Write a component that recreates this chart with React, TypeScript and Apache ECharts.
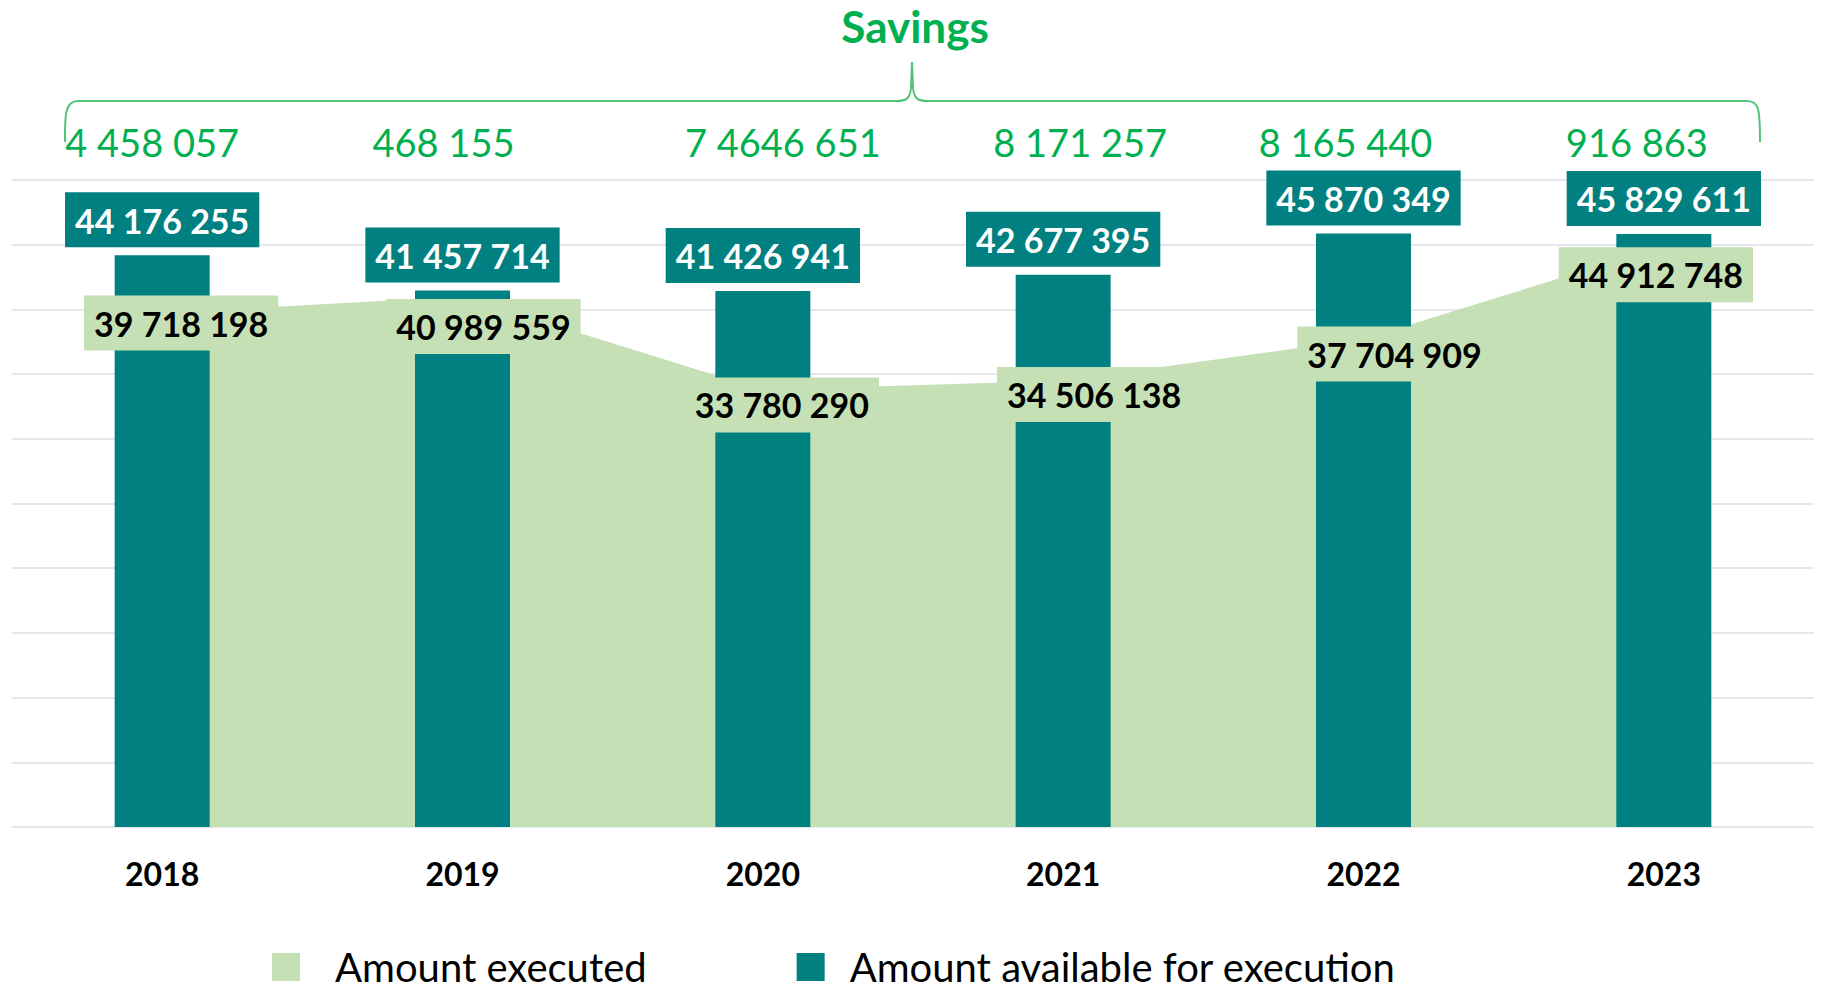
import React, { useEffect, useRef } from "react";
import * as echarts from "echarts";

const years = ["2018", "2019", "2020", "2021", "2022", "2023"];
const availableValues = [44176255, 41457714, 41426941, 42677395, 45870349, 45829611];
const executedValues = [39718198, 40989559, 33780290, 34506138, 37704909, 44912748];
const savingsLabels = ["4 458 057", "468 155", "7 4646 651", "8 171 257", "8 165 440", "916 863"];
const legendNames = ["Amount executed", "Amount available for execution"];

// label nudges (px), matching the hand-placed labels of the original
const executedLabelOffsets = [[19, 10], [21, 30], [19, 15], [31, 14], [31, 15], [-8, 29]];
const savingsLabelShifts = [-10, -19, 20, 17, -18, -27];

const TEAL = "#008080";
const LIGHT = "#C5E0B4";
const GREEN = "#00B050";
const GRID = "#E4E7EC";
const FONT = "Lato";

const fmt = (n: number) => String(n).replace(/\B(?=(\d{3})+(?!\d))/g, " ");

const braceD =
  "M 65 142 C 65 118 64 101 78 101 L 896 101 C 906 101 910 99 911 88 L 912 62 L 913 88 C 914 99 918 101 928 101 L 1746 101 C 1759 101 1760 108 1760 142";

export default function App() {
  const ref = useRef<HTMLDivElement>(null);
  useEffect(() => {
    if (!ref.current) return;
    try {
      echarts.graphic.registerShape("brace", echarts.graphic.extendPath(braceD, {}));
    } catch (e) {}
    const chart = echarts.init(ref.current, null, { renderer: "svg" });

    const savingsRich: Record<string, any> = {};
    savingsLabelShifts.forEach((dx, i) => {
      savingsRich["s" + i] = {
        color: GREEN,
        fontFamily: FONT,
        fontSize: 38,
        lineHeight: 40,
        padding: dx < 0 ? [0, -2 * dx, 0, 0] : [0, 0, 0, 2 * dx],
      };
    });

    const labelBox = {
      fontFamily: FONT,
      fontWeight: "bold" as const,
      fontSize: 34,
      lineHeight: 36,
      padding: [10, 10, 9, 10],
    };

    const legendText = {
      fontFamily: FONT,
      fontSize: 40,
      lineHeight: 40,
      color: "#000",
    };

    chart.setOption({
      animation: false,
      textStyle: { fontFamily: FONT },
      title: {
        text: "Savings",
        left: 915,
        textAlign: "center",
        top: 4,
        padding: 0,
        textStyle: { color: GREEN, fontFamily: FONT, fontWeight: "bold", fontSize: 44, lineHeight: 44 },
      },
      legend: {
        data: [
          { name: legendNames[0], textStyle: { ...legendText, padding: [0, 0, 0, 30] } },
          { name: legendNames[1], textStyle: { ...legendText, padding: [0, 0, 0, 20] } },
        ],
        left: 272,
        top: 947,
        padding: 0,
        itemWidth: 28,
        itemHeight: 28,
        itemGap: 150,
        icon: "rect",
        textStyle: { ...legendText, padding: [0, 0, 0, 30] },
      },
      grid: { left: 12, right: 7, top: 180, bottom: 163 },
      xAxis: [
        {
          type: "category",
          data: years,
          axisLine: { show: false },
          axisTick: { show: false },
          axisLabel: {
            color: "#000",
            fontFamily: FONT,
            fontWeight: "bold",
            fontSize: 32,
            lineHeight: 32,
            margin: 30,
          },
        },
        {
          type: "category",
          position: "top",
          data: savingsLabels,
          axisLine: { show: false },
          axisTick: { show: false },
          splitLine: { show: false },
          axisLabel: {
            margin: 18,
            formatter: (v: string, i: number) => `{s${i}|${v}}`,
            rich: savingsRich,
          },
        },
      ],
      yAxis: {
        type: "value",
        min: 0,
        max: 50000000,
        interval: 5000000,
        axisLabel: { show: false },
        axisLine: { show: false },
        axisTick: { show: false },
        splitLine: { lineStyle: { color: GRID, width: 2 } },
      },
      series: [
        {
          name: legendNames[0],
          type: "line",
          z: 1,
          data: executedValues,
          symbol: "none",
          showSymbol: false,
          itemStyle: { color: LIGHT },
          lineStyle: { width: 0, color: LIGHT },
          areaStyle: { color: LIGHT, opacity: 1 },
          silent: true,
        },
        {
          name: legendNames[1],
          type: "bar",
          z: 2,
          data: availableValues,
          barWidth: 95,
          itemStyle: { color: TEAL },
          label: {
            show: true,
            position: "top",
            distance: 8,
            color: "#fff",
            backgroundColor: TEAL,
            formatter: (p: any) => fmt(p.value),
            ...labelBox,
          },
        },
        {
          name: "executed-labels",
          type: "line",
          z: 3,
          data: executedValues.map((v, i) => ({
            value: v,
            label: { offset: executedLabelOffsets[i] },
          })),
          symbol: "circle",
          symbolSize: 2,
          showSymbol: true,
          itemStyle: { color: "rgba(0,0,0,0)" },
          lineStyle: { width: 0, opacity: 0 },
          silent: true,
          label: {
            show: true,
            position: "inside",
            color: "#000",
            backgroundColor: LIGHT,
            formatter: (p: any) => fmt(p.value),
            ...labelBox,
          },
        },
      ],
      graphic: [
        {
          type: "brace",
          x: 0,
          y: 0,
          silent: true,
          style: { stroke: "#52C27B", fill: "none", lineWidth: 2 },
        },
      ],
    });
    return () => chart.dispose();
  }, []);
  return (
    <div
      ref={ref}
      style={{ position: "fixed", left: 0, top: 0, width: 1821, height: 990, background: "#fff" }}
    />
  );
}
